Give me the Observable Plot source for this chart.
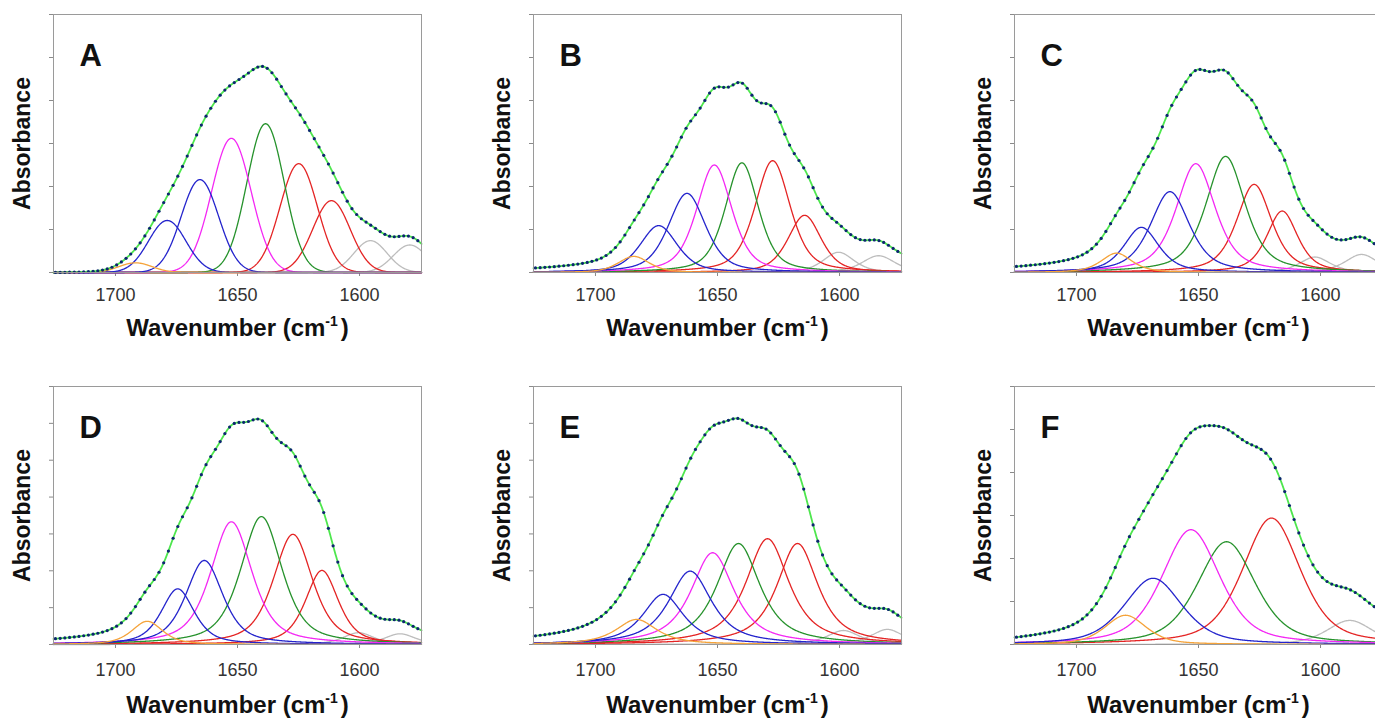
<!DOCTYPE html>
<html>
<head>
<meta charset="utf-8">
<script src="https://cdn.jsdelivr.net/npm/d3@7"></script>
<script src="https://cdn.jsdelivr.net/npm/@observablehq/plot@0.6"></script>
<style>
  html, body { margin: 0; padding: 0; background: #fff; overflow: hidden; }
  #root { position: relative; width: 1375px; height: 718px; overflow: hidden; }
  #root svg { position: absolute; overflow: visible; font-family: "Liberation Sans", Arial, sans-serif; }
</style>
</head>
<body>
<div id="root"></div>
<script>
// ---------- data ----------
const panelLetters = ["A", "B", "C", "D", "E", "F"];
const xTicks = [1700, 1650, 1600];
const xDomain = [1725.4, 1574.6];
const yMax = [0.6, 0.6, 0.6, 0.7, 0.7, 0.6];           // top of each frame (tick every 0.1)
const lorentzFraction = [0.0, 0.5, 0.6, 0.6, 0.8, 0.5]; // band shape mix per panel
const baselineLeft = [0.0, 0.002, 0.003, 0.0, 0.0, 0.0];
const baselineRight = [0.016, 0.016, 0.02, 0.005, 0.01, 0.03];

// band assignments (colour group of each component)
const bandGroups9 = ["orange", "blue", "blue", "magenta", "green", "red", "red", "gray", "gray"];
const bandGroupsF = ["orange", "blue", "magenta", "green", "red", "gray"];

// Panel A
const centersA = [1691.8, 1678.8, 1665.4, 1652.5, 1638.5, 1624.9, 1611.5, 1595.5, 1579.4];
const heightsA = [0.0225, 0.121, 0.216, 0.312, 0.346, 0.253, 0.167, 0.074, 0.064];
const fwhmA    = [16, 18, 18, 19, 18, 18, 18, 16, 16];
// Panel B
const centersB = [1684.3, 1674.1, 1662.5, 1651.3, 1640.0, 1627.4, 1614.3, 1600.4, 1584.0];
const heightsB = [0.0375, 0.109, 0.184, 0.25, 0.255, 0.26, 0.133, 0.047, 0.039];
const fwhmB    = [15, 18, 18, 17, 16, 17, 16, 15, 16];
// Panel C
const centersC = [1683.6, 1673.4, 1661.7, 1651.1, 1638.9, 1627.2, 1615.7, 1602.3, 1583.2];
const heightsC = [0.045, 0.105, 0.188, 0.253, 0.27, 0.205, 0.143, 0.036, 0.042];
const fwhmC    = [15, 17, 19, 19, 19, 17, 15, 15, 16];
// Panel D
const centersD = [1687.0, 1674.5, 1663.6, 1652.5, 1640.2, 1627.3, 1615.4, 1600.4, 1583.4];
const heightsD = [0.063, 0.151, 0.228, 0.333, 0.347, 0.299, 0.201, 0.032, 0.029];
const fwhmD    = [15, 16, 18, 20, 20, 19, 16, 15, 15];
// Panel E
const centersE = [1683.2, 1672.3, 1661.2, 1652.0, 1641.4, 1629.5, 1617.2, 1598.4, 1580.4];
const heightsE = [0.068, 0.136, 0.199, 0.249, 0.274, 0.287, 0.274, 0.038, 0.041];
const fwhmE    = [20, 20, 21, 21, 21, 21, 20, 16, 16];
// Panel F
const centersF = [1679.9, 1668.6, 1653.1, 1638.5, 1620.1, 1588.0];
const heightsF = [0.068, 0.154, 0.267, 0.239, 0.294, 0.056];
const fwhmF    = [20, 28, 28, 28, 28, 22];

const groupColors = {
  orange: "#f5a33a", blue: "#2424cc", magenta: "#f428f4",
  green: "#26922c", red: "#e42424", gray: "#bdbdbd"
};
const drawOrder = ["gray", "red", "green", "magenta", "blue", "orange"];

// ---------- layout ----------
const panelLeft = [0, 480, 961, 0, 480, 961];
const panelTop = [0, 0, 0, 372, 372, 372];
const tickPad = [12, 12, 12, 15, 15, 15];
const titleDy = [56, 56, 56, 61, 61, 61];

const panels = [
  [centersA, heightsA, fwhmA, bandGroups9],
  [centersB, heightsB, fwhmB, bandGroups9],
  [centersC, heightsC, fwhmC, bandGroups9],
  [centersD, heightsD, fwhmD, bandGroups9],
  [centersE, heightsE, fwhmE, bandGroups9],
  [centersF, heightsF, fwhmF, bandGroupsF]
];

function bandValue(x, c, h, w, eta) {
  const d = (x - c) / w;
  return h * ((1 - eta) * Math.exp(-4 * Math.LN2 * d * d) + eta / (1 + 4 * d * d));
}

const root = document.getElementById("root");
const fineX = d3.range(xDomain[0], xDomain[1] - 0.001, -0.2);
const dataX = d3.range(1724.6, xDomain[1], -1.9285);

panels.forEach(([cs, hs, ws, gs], p) => {
  const eta = lorentzFraction[p];
  const bands = cs.map((c, i) => ({c, h: hs[i], w: ws[i], g: gs[i], i}));
  const curves = [];
  for (const b of bands) for (const x of fineX) curves.push({band: b.i, g: b.g, x, y: bandValue(x, b.c, b.h, b.w, eta)});
  curves.sort((a, b) => drawOrder.indexOf(a.g) - drawOrder.indexOf(b.g) || a.band - b.band);
  const base = x => baselineLeft[p] + (baselineRight[p] - baselineLeft[p]) * (xDomain[0] - x) / (xDomain[0] - xDomain[1]);
  const total = x => base(x) + d3.sum(bands, b => bandValue(x, b.c, b.h, b.w, eta));
  const envLine = fineX.map(x => ({x, y: total(x)}));
  const envDots = dataX.map(x => ({x, y: total(x)}));
  const yTicks = d3.range(0, yMax[p] + 1e-9, 0.1);

  const svg = Plot.plot({
    width: 440,
    height: p < 3 ? 342 : 346,
    marginLeft: 53, marginRight: 19, marginTop: 14,
    marginBottom: p < 3 ? 70 : 74,
    x: {domain: xDomain},
    y: {domain: [0, yMax[p]]},
    marks: [
      Plot.axisY(yTicks, {tickSize: 4, tickFormat: () => "", stroke: "#8a8a8a", label: null}),
      Plot.axisX(xTicks, {tickSize: 4, tickPadding: tickPad[p], tickFormat: d => String(d), fontSize: 18, stroke: "#8a8a8a", fill: "#333", label: null}),
      Plot.line(curves, {x: "x", y: "y", z: "band", stroke: d => groupColors[d.g], strokeWidth: 1.3}),
      Plot.line(envLine, {x: "x", y: "y", stroke: "#4ee64e", strokeWidth: 1.8}),
      Plot.dot(envDots, {x: "x", y: "y", r: 1.6, fill: "#0d2670", stroke: null}),
      Plot.frame({stroke: "#9a9a9a"}),
      Plot.text([panelLetters[p]], {frameAnchor: "top-left", dx: 26, dy: 29, text: d => d, fontSize: 31, fontWeight: "bold", textAnchor: "start", lineAnchor: "top", fill: "#111"}),
      Plot.text(["Absorbance"], {frameAnchor: "left", dx: -31, text: d => d, rotate: -90, fontSize: 23, fontWeight: "bold", textAnchor: "middle", lineAnchor: "middle", fill: "#111"}),
      Plot.text(["Wavenumber (cm-1)"], {frameAnchor: "bottom", dy: titleDy[p], text: d => d, fontSize: 24, fontWeight: "bold", textAnchor: "middle", lineAnchor: "middle", fill: "#111"})
    ]
  });
  svg.style.left = panelLeft[p] + "px";
  svg.style.top = panelTop[p] + "px";
  // superscript for the unit
  d3.select(svg).selectAll("text").filter(function () { return this.textContent === "Wavenumber (cm-1)"; })
    .each(function () {
      const t = d3.select(this);
      t.text(null);
      t.append("tspan").text("Wavenumber (cm");
      t.append("tspan").attr("dy", -10).attr("font-size", "14px").text("-1");
      t.append("tspan").attr("dy", 10).attr("dx", 3).text(")");
    });
  root.appendChild(svg);
});
</script>
</body>
</html>
